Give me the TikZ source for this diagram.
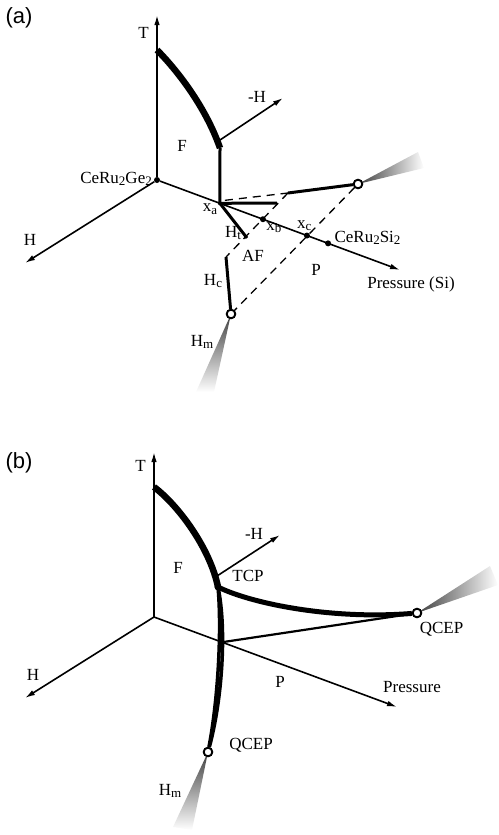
\documentclass[tikz,border=0pt]{standalone}
\usepackage{fontspec}
\setmainfont{Liberation Serif}
\setsansfont{Liberation Sans}
\usetikzlibrary{arrows.meta, positioning, calc}
\tikzset{
  axis/.style    = {line width=1.6pt, -{Latex[length=10pt, width=5.5pt]}},
  bnd/.style     = {line width=3pt},
  bndthick/.style= {line width=6.5pt},
  guide/.style   = {line width=1.3pt, dash pattern=on 8pt off 6pt},
  pt/.style      = {circle, fill=black, inner sep=0pt, minimum size=6pt},
  endpt/.style   = {circle, draw=black, fill=white, line width=1.8pt,
                    inner sep=0pt, minimum size=8.5pt},
  lbl/.style     = {font=\fontsize{17}{19}\selectfont, inner sep=1pt},
  tag/.style     = {font=\sffamily\fontsize{22}{24}\selectfont, inner sep=0pt},
  wing/.style    = {top color=black!75, bottom color=white},
  wingr/.style   = {left color=black!75, right color=white},
}
\newcommand{\low}[1]{\raisebox{-0.28ex}{\fontsize{13}{13}\selectfont #1}}

\begin{document}
\begin{tikzpicture}[x=1pt, y=-1pt]
    \useasboundingbox (0,0) rectangle (498,835);
    % ---------- (a)
    \node[tag] (taga) at (19,18) {(a)};
    \node[pt] (ge) at (157,180) {};
    \coordinate (ta) at (157,15);
    \coordinate (ha) at (25,263);
    \coordinate (pa) at (400,270);
    \node[pt, minimum size=4pt] (xa) at ($(ge)!0.259!(pa)$) {};
    \node[pt] (xb) at ($(ge)!0.436!(pa)$) {};
    \node[pt] (xc) at ($(ge)!0.617!(pa)$) {};
    \node[pt] (si) at ($(ge)!0.704!(pa)$) {};
    \coordinate (tca) at (157,50);
    \coordinate (fa) at (220,148);
    \coordinate (mha) at (220,140);
    \coordinate (mhtip) at (283,98);
    \coordinate (ra) at (277,203);
    \coordinate (ka) at (288,193);
    \coordinate (ht) at (247,238);
    \coordinate (hc) at (226,257);
    \node[endpt] (qa) at (358,184) {};
    \node[endpt] (hm) at (231,314) {};

    \draw[axis] (ge) -- (ta);
    \draw[axis] (ge) -- (ha);
    \draw[axis] (ge) -- (pa);
    \draw[axis] (mha) -- (mhtip);
    \draw[bndthick] (tca) .. controls (175,68) and (205,105) .. (fa);
    \draw[bnd] (fa) -- (xa.center);
    \draw[bnd] (xa.center) -- (ra);
    \draw[bnd] (xa.center) -- (ht);
    \draw[bnd] (ka) -- (qa);
    \draw[bnd] (hc) -- (hm);
    \draw[guide] ($(xa)+(5,-3)$) -- (ka);
    \draw[guide] (ka) -- (hc);
    \draw[guide] (qa) -- (hm);
    \shade[wingr] (qa.center) -- (418,152) -- (424,168) -- cycle;
    \shade[wing] (hm.center) -- (196,392) -- (214,392) -- cycle;
    \node[endpt] at (qa) {};
    \node[endpt] at (hm) {};

    \node[lbl, left=7pt of ta, yshift=-18pt] (tlbl) {T};
    \node[lbl, anchor=south east] (gelbl) at (153,187) {CeRu\low{2}Ge\low{2}};
    \node[lbl] (hlbl) at (30,240) {H};
    \node[lbl] (mhlbl) at (257,97) {-H};
    \node[lbl] (flbl) at (182,146) {F};
    \node[lbl, below left=-2pt and 0pt of xa] (xalbl) {x\low{a}};
    \node[lbl, below right=0pt and 0pt of xb] (xblbl) {x\low{b}};
    \node[lbl, above left=1pt and -8pt of xc] (xclbl) {x\low{c}};
    \node[lbl, above right=-5pt and 3pt of si] (silbl) {CeRu\low{2}Si\low{2}};
    \node[lbl] (palbl) at (411,284) {Pressure (Si)};
    \node[lbl] (htlbl) at (233,233) {H\low{t}};
    \node[lbl] (aflbl) at (253,256) {AF};
    \node[lbl] (plbl) at (316,270) {P};
    \node[lbl] (hclbl) at (213,281) {H\low{c}};
    \node[lbl] (hmlbl) at (202,342) {H\low{m}};

    % ---------- (b)
    \node[tag] (tagb) at (19,463) {(b)};
    \coordinate (ob) at (154,617);
    \coordinate (tb) at (154,452);
    \coordinate (hb) at (25,698);
    \coordinate (pb) at (397,707);
    \coordinate (tcb) at (154,487);
    \node[pt, minimum size=7pt] (tcp) at (218,587) {};
    \coordinate (mhb) at (217,576);
    \coordinate (mhbtip) at (280,535);
    \coordinate (xp) at ($(ob)!0.28!(pb)$);
    \node[endpt] (qr) at (417,613) {};
    \node[endpt] (ql) at (208,752) {};

    \draw[axis] (ob) -- (tb);
    \draw[axis] (ob) -- (hb);
    \draw[axis] (ob) -- (pb);
    \draw[axis] (mhb) -- (mhbtip);
    \draw[bndthick] (tcb) .. controls (178,505) and (210,548) .. (tcp.center);
    \draw[line width=3.5pt] (tcp.center) .. controls (222,630) and (218,700) .. (ql);
    \draw[line width=3.5pt] (tcp.center) .. controls (227,630) and (222,700) .. (ql);
    \draw[line width=5pt] (tcp.center) .. controls (250,603) and (330,620) .. (qr);
    \draw[line width=2.2pt] (xp) -- (qr);
    \shade[wingr] (qr.center) -- (490,566) -- (498,585) -- cycle;
    \shade[wing] (ql.center) -- (173,827) -- (192,830) -- cycle;
    \node[endpt] at (qr) {};
    \node[endpt] at (ql) {};

    \node[lbl, left=7pt of tb, yshift=-14pt] (tblbl) {T};
    \node[lbl] (fblbl) at (178,568) {F};
    \node[lbl] (mhblbl) at (254,534) {-H};
    \node[lbl] (tcplbl) at (248,576) {TCP};
    \node[lbl] (hblbl) at (33,675) {H};
    \node[lbl] (pblbl) at (280,682) {P};
    \node[lbl] (prlbl) at (412,687) {Pressure};
    \node[lbl, below right=4pt and -2pt of qr] (qrlbl) {QCEP};
    \node[lbl] (qllbl) at (251,745) {QCEP};
    \node[lbl] (hmblbl) at (170,791) {H\low{m}};
\end{tikzpicture}
\end{document}
